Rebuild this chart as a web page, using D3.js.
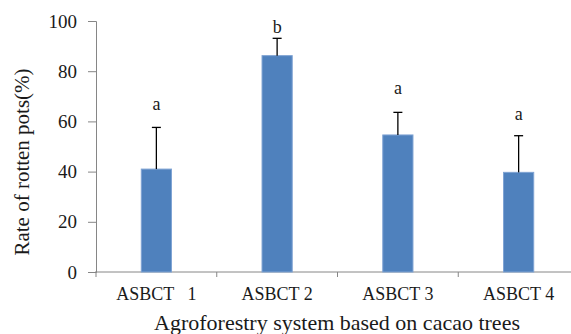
<!DOCTYPE html>
<html>
<head>
<meta charset="utf-8">
<script src="https://cdn.jsdelivr.net/npm/d3@7"></script>
<style>
  body { margin: 0; background: #fff; }
</style>
</head>
<body>
<script>
  // data
  var categories = ["ASBCT   1", "ASBCT 2", "ASBCT 3", "ASBCT 4"];
  var means = [41, 86.2, 54.6, 39.7];
  var errTop = [57.6, 93.1, 63.6, 54.3];
  var letters = ["a", "b", "a", "a"];
  var letterPos = [67, 97.6, 73.2, 62.8];   // where the letters sit, in % units
  var yTicks = [0, 20, 40, 60, 80, 100];

  var width = 571, height = 334;
  var plot = {left: 96, right: 579, top: 21, bottom: 272};
  var serif = "'Liberation Serif'";
  var ink = "#1a1a1a";

  var svg = d3.select("body").append("svg")
      .attr("width", width)
      .attr("height", height);

  var x = d3.scaleBand()
      .domain(categories)
      .range([plot.left, plot.right])
      .paddingInner(0.75)
      .paddingOuter(0.375);

  var y = d3.scaleLinear()
      .domain([0, 100])
      .range([plot.bottom, plot.top]);

  // y axis
  var yAxis = svg.append("g")
      .attr("transform", "translate(" + plot.left + ",0)")
      .call(d3.axisLeft(y).tickValues(yTicks).tickSize(8).tickPadding(11));
  yAxis.select(".domain").attr("stroke", "#868686");
  yAxis.selectAll(".tick line").attr("stroke", "#868686");
  yAxis.selectAll(".tick text")
      .attr("font-size", 19)
      .attr("fill", ink)
      .style("font-family", serif);

  // x axis, ticks sit between categories
  var band = (plot.right - plot.left) / categories.length;
  var xg = svg.append("g");
  xg.append("line")
      .attr("x1", plot.left - 1).attr("x2", plot.right)
      .attr("y1", plot.bottom).attr("y2", plot.bottom)
      .attr("stroke", "#868686");
  xg.selectAll(".xtick")
      .data(d3.range(categories.length))
      .enter().append("line")
      .attr("x1", function(i) { return plot.left + i * band; })
      .attr("x2", function(i) { return plot.left + i * band; })
      .attr("y1", plot.bottom).attr("y2", plot.bottom + 5)
      .attr("stroke", "#868686");
  xg.selectAll(".xlabel")
      .data(categories)
      .enter().append("text")
      .attr("x", function(d) { return x(d) + x.bandwidth() / 2; })
      .attr("y", 300)
      .attr("text-anchor", "middle")
      .attr("font-size", 18)
      .attr("fill", ink)
      .style("white-space", "pre")
      .style("font-family", serif)
      .text(function(d) { return d; });

  // bars
  svg.selectAll(".bar")
      .data(means)
      .enter().append("rect")
      .attr("x", function(d, i) { return x(categories[i]); })
      .attr("y", function(d) { return y(d); })
      .attr("width", x.bandwidth())
      .attr("height", function(d) { return y(0) - y(d); })
      .attr("fill", "#4F81BD")
      .attr("stroke", "#7FA3D3")
      .attr("stroke-width", 1);

  // error bars (upper half only)
  var eg = svg.selectAll(".err")
      .data(errTop)
      .enter().append("g");
  eg.append("line")
      .attr("x1", function(d, i) { return x(categories[i]) + x.bandwidth() / 2; })
      .attr("x2", function(d, i) { return x(categories[i]) + x.bandwidth() / 2; })
      .attr("y1", function(d, i) { return y(means[i]); })
      .attr("y2", function(d) { return y(d); })
      .attr("stroke", "#000").attr("stroke-width", 1.3);
  eg.append("line")
      .attr("x1", function(d, i) { return x(categories[i]) + x.bandwidth() / 2 - 4.5; })
      .attr("x2", function(d, i) { return x(categories[i]) + x.bandwidth() / 2 + 4.5; })
      .attr("y1", function(d) { return y(d); })
      .attr("y2", function(d) { return y(d); })
      .attr("stroke", "#000").attr("stroke-width", 1.3);

  // significance letters
  svg.selectAll(".letter")
      .data(letters)
      .enter().append("text")
      .attr("x", function(d, i) { return x(categories[i]) + x.bandwidth() / 2; })
      .attr("y", function(d, i) { return y(letterPos[i]); })
      .attr("dy", "0.32em")
      .attr("text-anchor", "middle")
      .attr("font-size", 18)
      .attr("fill", ink)
      .style("font-family", serif)
      .text(function(d) { return d; });

  // axis titles
  svg.append("text")
      .attr("transform", "translate(29,162) rotate(-90)")
      .attr("text-anchor", "middle")
      .attr("font-size", 21)
      .attr("fill", ink)
      .style("font-family", serif)
      .text("Rate of rotten pots(%)");

  svg.append("text")
      .attr("x", 337)
      .attr("y", 330)
      .attr("text-anchor", "middle")
      .attr("font-size", 22)
      .attr("fill", ink)
      .style("font-family", serif)
      .text("Agroforestry system based on cacao trees");
</script>
</body>
</html>
